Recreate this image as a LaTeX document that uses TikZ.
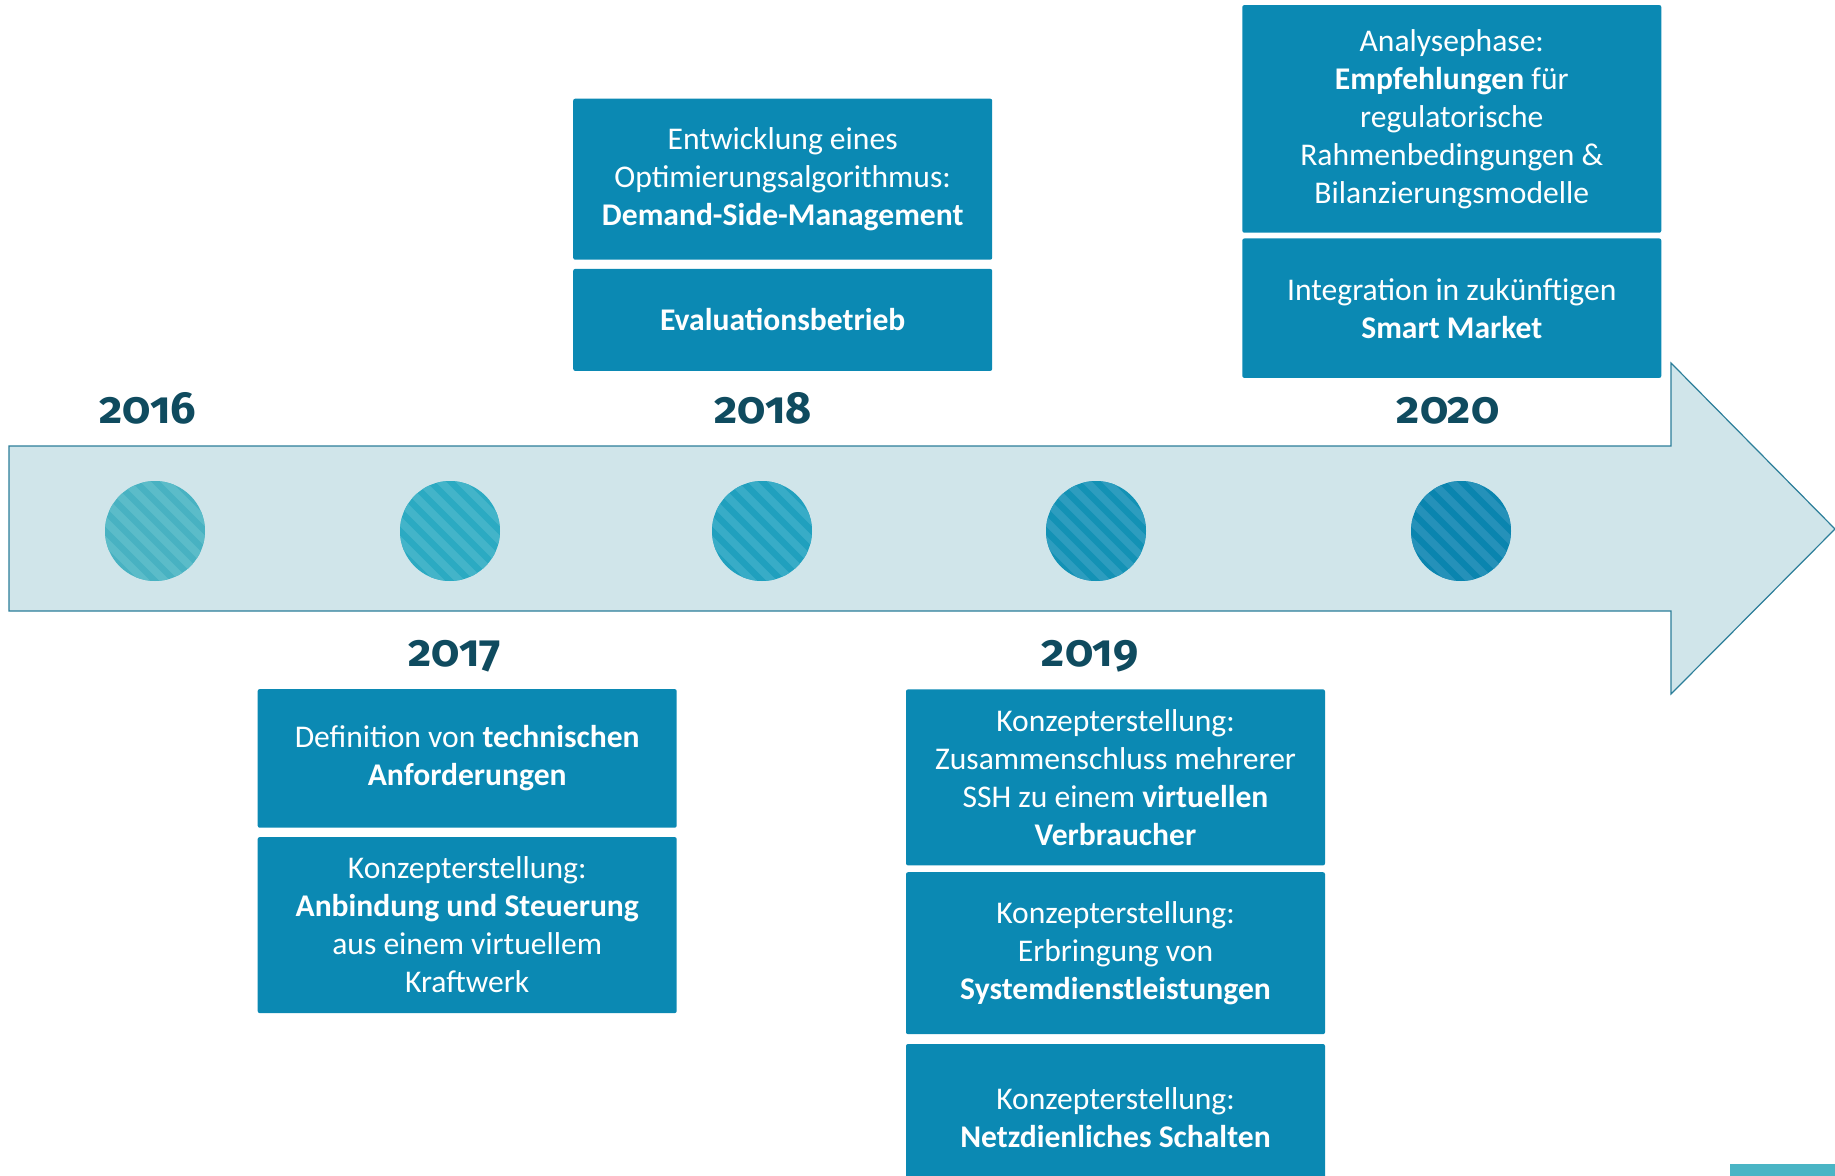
\documentclass[tikz,border=0pt]{standalone}
\usepackage{fontspec}
\setmainfont{Carlito}
\newfontfamily\yearfont[Numbers=OldStyle]{Fira Sans}
\usetikzlibrary{positioning}

\definecolor{boxblue}{HTML}{0B89B3}
\definecolor{yeartext}{HTML}{0F4B5F}
\definecolor{arrowfill}{HTML}{D0E5EA}
\definecolor{arrowline}{HTML}{2C7E99}
\definecolor{cornerteal}{HTML}{4AB5C5}
\definecolor{dotA}{HTML}{48B2C2}\definecolor{stripeA}{HTML}{5BBCC9}
\definecolor{dotB}{HTML}{2BAAC2}\definecolor{stripeB}{HTML}{43B4C9}
\definecolor{dotC}{HTML}{20A0BE}\definecolor{stripeC}{HTML}{38ACC7}
\definecolor{dotD}{HTML}{1392B5}\definecolor{stripeD}{HTML}{2D9DBF}
\definecolor{dotE}{HTML}{0A85AF}\definecolor{stripeE}{HTML}{2591B9}

\begin{document}
\begin{tikzpicture}[x=0.5pt, y=-0.5pt,
  taskbox/.style={fill=boxblue, text=white, align=center, inner sep=0pt, minimum width=209.5pt, rounded corners=1pt, font=\fontsize{15.8}{19}\selectfont},
  yearlabel/.style={anchor=base, text=yeartext, font=\yearfont\bfseries\fontsize{22.5}{26}\selectfont},
  yeardot/.style 2 args={circle, inner sep=0pt, minimum size=50pt, fill=#1,
    path picture={\foreach \k in {-5,...,5} \draw[#2, line width=3.8pt] ([shift={({\k*10pt-40pt},40pt)}]path picture bounding box.center) -- ++(80pt,-80pt);}}]
\useasboundingbox (0,0) rectangle (1835,1176);

\draw [fill=arrowfill, draw=arrowline, line width=0.6pt] (9,446) -- (1671,446) -- (1671,363) -- (1835,529) -- (1671,694) -- (1671,611) -- (9,611) -- cycle;

\node [yeardot={dotA}{stripeA}] (dot16) at (155,531) {};
\node [yeardot={dotB}{stripeB}] (dot17) at (450,531) {};
\node [yeardot={dotC}{stripeC}] (dot18) at (762,531) {};
\node [yeardot={dotD}{stripeD}] (dot19) at (1096,531) {};
\node [yeardot={dotE}{stripeE}] (dot20) at (1461,531) {};

\node [yearlabel] (y16) at (148,423) {2016};
\node [yearlabel] (y17) at (455,666) {2017};
\node [yearlabel] (y18) at (763,423) {2018};
\node [yearlabel] (y19) at (1090,666) {2019};
\node [yearlabel] (y20) at (1448,423) {2020};

\node [taskbox, minimum height=80.5pt, anchor=north] (dsm) at (782.7,98.3) {Entwicklung eines\\Optimierungsalgorithmus:\\\textbf{Demand-Side-Management}};
\node [taskbox, minimum height=51pt, below=4.2pt of dsm] (eval) {\textbf{Evaluationsbetrieb}};

\node [taskbox, minimum height=113.8pt, anchor=north] (analyse) at (1451.8,4.7) {Analysephase:\\\textbf{Empfehlungen} für\\regulatorische\\Rahmenbedingungen \&\\Bilanzierungsmodelle};
\node [taskbox, minimum height=69.7pt, below=2.5pt of analyse] (market) {Integration in zukünftigen\\\textbf{Smart Market}};

\node [taskbox, minimum height=69.3pt, anchor=north] (anford) at (467.2,688.7) {Definition von \textbf{technischen}\\\textbf{Anforderungen}};
\node [taskbox, minimum height=88pt, below=4.3pt of anford] (anbind) {Konzepterstellung:\\\textbf{Anbindung und Steuerung}\\aus einem virtuellem\\Kraftwerk};

\node [taskbox, minimum height=88pt, anchor=north] (verbr) at (1115.5,689) {Konzepterstellung:\\Zusammenschluss mehrerer\\SSH zu einem \textbf{virtuellen}\\\textbf{Verbraucher}};
\node [taskbox, minimum height=81pt, below=3pt of verbr] (sdl) {Konzepterstellung:\\Erbringung von\\\textbf{Systemdienstleistungen}};
\node [taskbox, minimum height=74pt, below=4.5pt of sdl] (netz) {Konzepterstellung:\\\textbf{Netzdienliches Schalten}};

\fill [cornerteal] (1730,1164) rectangle (1835,1176);
\end{tikzpicture}
\end{document}
